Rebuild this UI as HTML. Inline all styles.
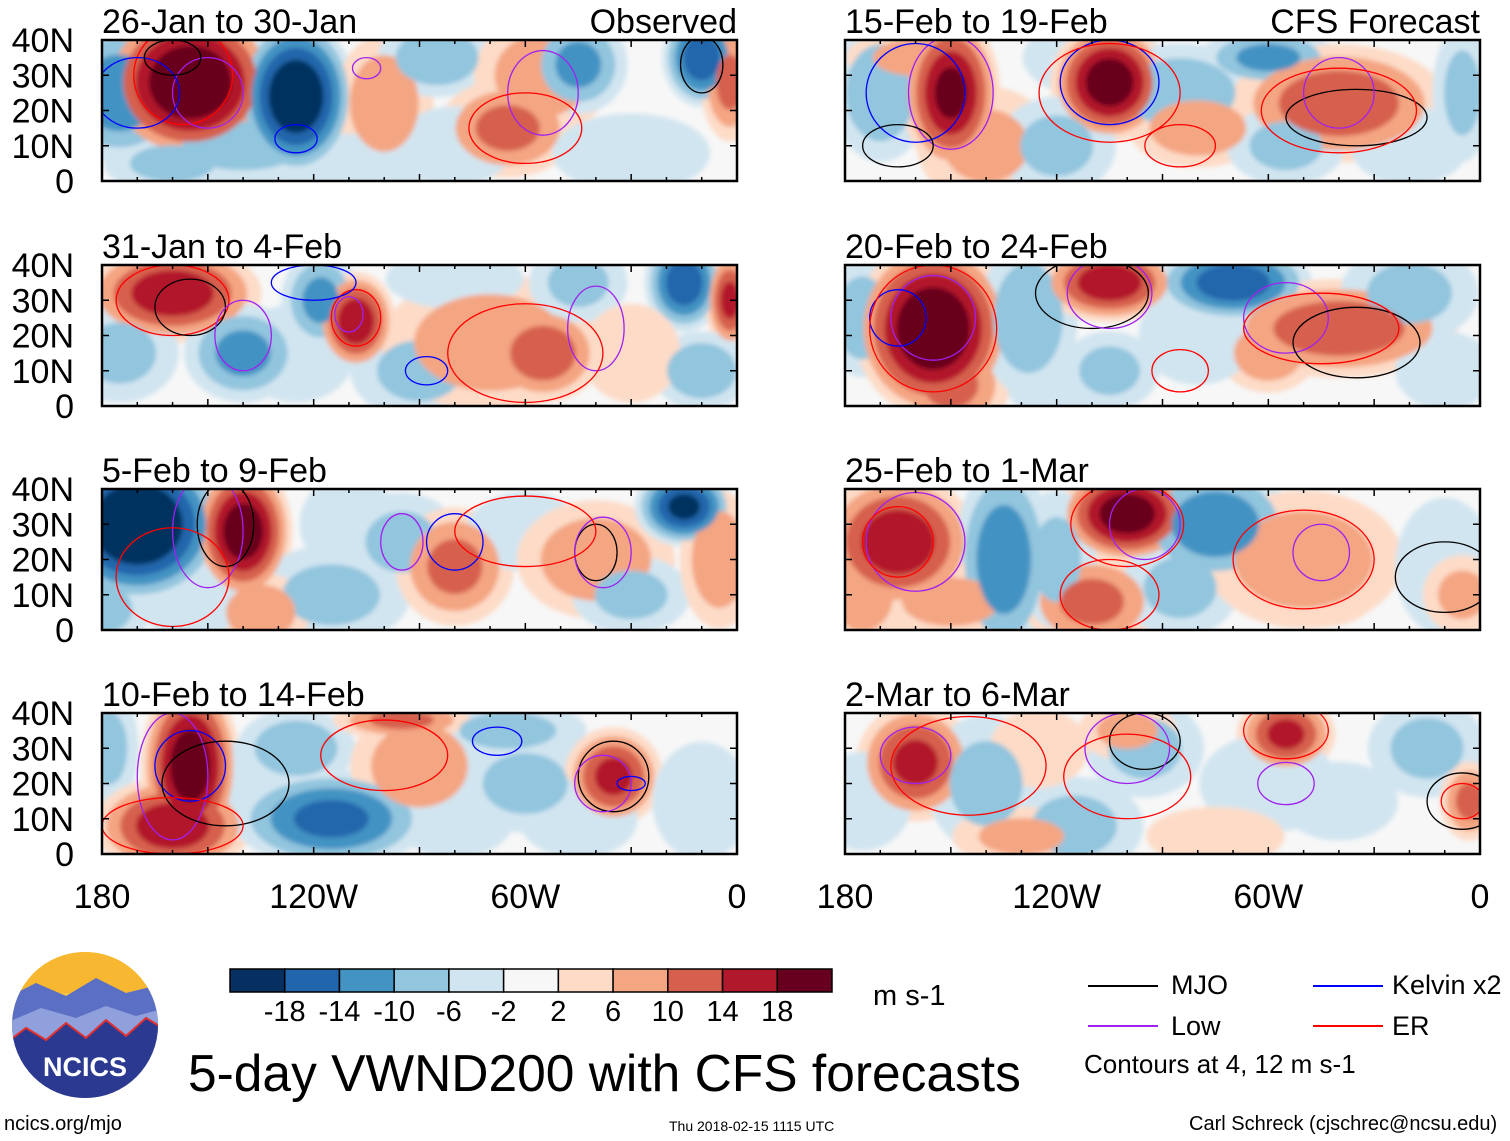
<!DOCTYPE html>
<html><head><meta charset="utf-8">
<style>
html,body{margin:0;padding:0;background:#fff;}
body{width:1510px;height:1141px;position:relative;overflow:hidden;font-family:"Liberation Sans",sans-serif;color:#000;}
.t{position:absolute;white-space:nowrap;}
</style></head>
<body>
<svg id="main" width="1510" height="1141" style="position:absolute;left:0;top:0">
<defs><filter id="bl" x="-20%" y="-20%" width="140%" height="140%"><feGaussianBlur stdDeviation="2.5"/></filter></defs>
</svg>
<script>
// ===== Data =====
const panelTitles = ["26-Jan to 30-Jan","31-Jan to 4-Feb","5-Feb to 9-Feb","10-Feb to 14-Feb","15-Feb to 19-Feb","20-Feb to 24-Feb","25-Feb to 1-Mar","2-Mar to 6-Mar"];
const latTicks = [40,30,20,10,0];
const latLabels = ["40N","30N","20N","10N","0"];
const lonTicks = [-180,-120,-60,0];
const lonLabels = ["180","120W","60W","0"];
const levelValues = [-18,-14,-10,-6,-2,2,6,10,14,18];
const levelColors = ["#053061","#2166ac","#4393c3","#92c5de","#d1e5f0","#f7f7f7","#fddbc7","#f4a582","#d6604d","#b2182b","#67001f"];
// blobs: [lon, lat, lonRadius, latRadius, value]
const blobs0 = [[-175,25,14,14,-12],[-155,28,18,16,22],[-125,24,12,16,-22],[-140,10,20,8,-6],[-100,22,10,14,8],[-85,35,12,8,-8],[-65,15,14,10,10],[-55,30,14,12,8],[-45,33,10,10,-10],[-10,35,8,10,-16],[-2,28,6,12,10],[-30,8,16,8,-4],[-110,5,18,6,-4],[-160,5,14,6,-6],[-80,10,12,8,-4]];
const blobs1 = [[-160,32,18,10,16],[-175,15,12,10,-6],[-140,15,12,10,-10],[-118,30,8,10,-10],[-108,24,8,10,16],[-90,10,14,10,-6],[-70,18,22,14,8],[-55,15,12,10,12],[-80,36,14,6,-4],[-45,35,10,8,-6],[-15,35,8,10,-16],[-2,30,5,10,14],[-10,10,10,8,-8],[-125,15,12,10,-4],[-30,15,10,10,4]];
const blobs2 = [[-170,30,18,16,-24],[-140,28,10,14,20],[-180,6,10,8,-6],[-115,10,16,10,-6],[-95,25,12,10,-6],[-80,18,12,12,10],[-60,28,12,8,-4],[-40,20,16,12,8],[-30,10,12,8,-6],[-15,35,10,8,-18],[-5,20,8,14,8],[-135,5,10,8,8],[-110,30,10,10,-4],[-155,8,10,8,-4]];
const blobs3 = [[-178,30,6,12,-6],[-155,25,10,18,20],[-160,8,16,10,16],[-125,30,12,8,-8],[-115,10,20,10,-14],[-90,25,14,12,8],[-65,35,16,6,-6],[-60,20,14,10,-6],[-35,22,10,10,14],[-45,10,12,8,-4],[-10,15,10,12,-4],[-95,38,14,4,10],[-135,20,10,10,-4],[-80,10,12,8,-4]];
const blobs4 = [[-170,25,10,14,-8],[-150,25,10,16,18],[-140,10,14,12,6],[-110,35,14,8,-4],[-105,28,12,12,20],[-120,10,12,10,-6],[-85,25,16,10,-8],[-80,15,14,8,8],[-60,35,14,6,-10],[-40,22,22,12,12],[-55,10,12,8,-6],[-5,25,6,14,-6],[-160,35,14,6,6],[-20,10,12,8,-4]];
const blobs5 = [[-175,25,8,12,-8],[-155,22,16,18,22],[-150,6,12,10,10],[-128,25,10,16,-8],[-105,35,14,8,16],[-70,35,16,8,-16],[-105,10,10,8,-6],[-60,15,10,8,8],[-40,22,24,10,12],[-20,32,14,10,-6],[-10,10,10,8,-4],[-80,20,12,10,-4],[-120,5,10,6,-4]];
const blobs6 = [[-165,25,16,14,16],[-175,10,10,12,6],[-135,20,10,20,-12],[-110,8,14,10,10],[-100,33,14,10,20],[-75,30,16,12,-12],[-85,12,12,10,-6],[-50,20,20,14,8],[-45,12,12,8,4],[-10,18,10,14,-4],[-5,10,8,8,6],[-150,8,16,8,6],[-120,20,8,14,-6]];
const blobs7 = [[-160,26,12,12,14],[-175,15,10,10,-4],[-140,20,12,14,-6],[-115,8,14,10,-6],[-95,30,12,10,-6],[-100,35,10,6,6],[-55,34,10,8,14],[-60,20,14,10,-4],[-40,15,12,8,-4],[-15,30,12,10,-6],[-3,15,6,8,10],[-130,5,14,6,6],[-75,5,14,6,4],[-125,30,10,8,4]];
const blobsAll = [blobs0,blobs1,blobs2,blobs3,blobs4,blobs5,blobs6,blobs7];
// contours: [lon, lat, lonRadius, latRadius, type]
const contours0 = [[-157,30,14,14,"er"],[-150,25,10,10,"low"],[-170,25,12,10,"kelvin"],[-160,35,8,5,"mjo"],[-55,25,10,12,"low"],[-105,32,4,3,"low"],[-125,12,6,4,"kelvin"],[-60,15,16,10,"er"],[-10,33,6,8,"mjo"]];
const contours1 = [[-160,30,16,10,"er"],[-155,28,10,8,"mjo"],[-140,20,8,10,"low"],[-108,25,7,8,"er"],[-110,26,4,5,"low"],[-88,10,6,4,"kelvin"],[-40,22,8,12,"low"],[-60,15,22,14,"er"],[-120,35,12,5,"kelvin"]];
const contours2 = [[-150,28,10,16,"low"],[-145,30,8,12,"mjo"],[-160,15,16,14,"er"],[-95,25,6,8,"low"],[-80,25,8,8,"kelvin"],[-40,22,6,8,"mjo"],[-38,22,8,10,"low"],[-60,28,20,10,"er"]];
const contours3 = [[-160,22,10,18,"low"],[-155,25,10,10,"kelvin"],[-145,20,18,12,"mjo"],[-160,8,20,8,"er"],[-68,32,7,4,"kelvin"],[-35,22,10,10,"mjo"],[-38,20,8,8,"low"],[-100,28,18,10,"er"],[-30,20,4,2,"kelvin"]];
const contours4 = [[-150,25,12,16,"low"],[-160,25,14,14,"kelvin"],[-105,28,14,12,"kelvin"],[-105,25,20,14,"er"],[-165,10,10,6,"mjo"],[-35,18,20,8,"mjo"],[-40,25,10,10,"low"],[-40,20,22,12,"er"],[-85,10,10,6,"er"]];
const contours5 = [[-155,25,12,12,"low"],[-165,25,8,8,"kelvin"],[-155,22,18,18,"er"],[-110,32,16,10,"mjo"],[-105,32,12,10,"low"],[-55,25,12,10,"low"],[-35,18,18,10,"mjo"],[-45,22,22,10,"er"],[-85,10,8,6,"er"]];
const contours6 = [[-160,25,14,14,"low"],[-165,25,10,10,"er"],[-100,30,16,12,"er"],[-95,30,10,10,"low"],[-50,20,20,14,"er"],[-45,22,8,8,"low"],[-10,15,14,10,"mjo"],[-105,10,14,10,"er"]];
const contours7 = [[-160,28,10,8,"low"],[-145,25,22,14,"er"],[-95,32,10,8,"mjo"],[-100,30,12,10,"low"],[-55,35,12,8,"er"],[-55,20,8,6,"low"],[-5,15,10,8,"mjo"],[-5,15,6,5,"er"],[-100,22,18,12,"er"]];
const contoursAll = [contours0,contours1,contours2,contours3,contours4,contours5,contours6,contours7];
const contourColors = {mjo:"#000000",low:"#a020f0",kelvin:"#0000ff",er:"#ff0000"};

// ===== Layout =====
const colX = [102,845], panelW = 635, rowY = [40,265,489,713], panelH = 141;
const NS = "http://www.w3.org/2000/svg";
const svg = document.getElementById('main');
function mk(tag, attrs, parent){const e=document.createElementNS(NS,tag);for(const k in attrs)e.setAttribute(k,attrs[k]);(parent||svg).appendChild(e);return e;}
function colorFor(v){let i=0;while(i<levelValues.length && v>levelValues[i])i++;return levelColors[i];}
const FS = 'Liberation Sans, sans-serif';

for(let p=0;p<8;p++){
  const col = p<4?0:1, row = p%4;
  const x0 = colX[col], y0 = rowY[row];
  const xs = lon => x0 + (lon+180)/180*panelW;
  const ys = lat => y0 + panelH - lat/40*panelH;
  const g = mk('g',{});
  
  
  const cp = mk('clipPath',{id:'cp'+p},g);
  mk('rect',{x:x0,y:y0,width:panelW,height:panelH},cp);
  const inner = mk('g',{'clip-path':'url(#cp'+p+')'},g);
  mk('rect',{x:x0,y:y0,width:panelW,height:panelH,fill:'#f7f7f7'},inner);
  const fg = mk('g',{filter:'url(#bl)'},inner);
  const blobs = blobsAll[p];
  for(let L=2; L<=26; L+=4){
    blobs.forEach(b=>{
      const av=Math.abs(b[4]); if(av<L) return;
      const f=1.4*Math.pow(1-(L-2)/(av+2),0.7);
      const e=mk('ellipse',{cx:xs(b[0]),cy:ys(b[1]),rx:Math.abs(xs(b[2])-xs(0))*f,ry:(b[3]/40*panelH)*f,fill:colorFor(Math.sign(b[4])*(L+0.5))},fg);
      
      
    });
  }
  contoursAll[p].forEach(c=>{
    const e=mk('ellipse',{cx:xs(c[0]),cy:ys(c[1]),rx:Math.abs(xs(c[2])-xs(0)),ry:c[3]/40*panelH,fill:'none',stroke:contourColors[c[4]],'stroke-width':1.3},inner);
    
    
  });
  const fr = mk('rect',{x:x0,y:y0,width:panelW,height:panelH,fill:'none',stroke:'#000','stroke-width':2.5},g);
  
  
  for(let lon=-180;lon<=0;lon+=10){
    const len = lon%30===0?7:4;
    mk('line',{x1:xs(lon),x2:xs(lon),y1:y0,y2:y0+len,stroke:'#000','stroke-width':1.5},g);
    mk('line',{x1:xs(lon),x2:xs(lon),y1:y0+panelH,y2:y0+panelH-len,stroke:'#000','stroke-width':1.5},g);
  }
  latTicks.forEach((lat,i)=>{
    mk('line',{x1:x0,x2:x0+7,y1:ys(lat),y2:ys(lat),stroke:'#000','stroke-width':1.5},g);
    mk('line',{x1:x0+panelW,x2:x0+panelW-7,y1:ys(lat),y2:ys(lat),stroke:'#000','stroke-width':1.5},g);
    if(col===0){
      const t=mk('text',{x:74,y:ys(lat)+12,'text-anchor':'end','font-size':34,'font-family':FS},g);
      t.textContent=latLabels[i];
      
      
    }
  });
  const tt=mk('text',{x:x0,y:y0-7,'font-size':34,'font-family':FS},g);
  tt.textContent=panelTitles[p];
  
  
  if(row===0){
    const lt=mk('text',{x:x0+panelW,y:y0-7,'font-size':34,'text-anchor':'end','font-family':FS},g);
    lt.textContent = col===0?"Observed":"CFS Forecast";
    
    
  }
  if(row===3){
    lonTicks.forEach((lon,i)=>{
      const t=mk('text',{x:xs(lon),y:908,'text-anchor':'middle','font-size':34,'font-family':FS},g);
      t.textContent=lonLabels[i];
      
      
    });
  }
}

// ===== Colorbar =====
const cb = mk('g',{});


const cbX=230, cbW=602, cbY=969, cbH=23, bw=cbW/levelColors.length;
levelColors.forEach((c,i)=>{mk('rect',{x:cbX+i*bw,y:cbY,width:bw,height:cbH,fill:c,stroke:'#000','stroke-width':1.5},cb);});
levelValues.forEach((v,i)=>{
  const t=mk('text',{x:cbX+(i+1)*bw,y:1021,'text-anchor':'middle','font-size':29,'font-family':FS},cb);
  t.textContent=v;
  
  
});
</script>

<div class="t" style="left:873px;top:980px;font-size:29px">m s-1</div>

<svg width="160" height="160" style="position:absolute;left:6px;top:948px">
  <defs><clipPath id="lc"><circle cx="79" cy="77" r="73"/></clipPath></defs>
  <g clip-path="url(#lc)">
    <rect x="0" y="0" width="160" height="160" fill="#f4c542"/>
    <rect x="0" y="0" width="160" height="45" fill="#f7b731"/>
    <path d="M0 50 L30 35 L60 48 L90 30 L120 45 L160 35 L160 160 L0 160Z" fill="#5b6fc4"/>
    <path d="M0 75 L35 60 L70 70 L100 58 L130 68 L160 60 L160 160 L0 160Z" fill="#8fa0dc"/>
    <path d="M0 95 L20 80 L40 92 L60 75 L80 90 L100 72 L120 88 L140 70 L160 82 L160 160 L0 160Z" fill="#2b3990" stroke="#e03030" stroke-width="2"/>
  </g>
  <text x="79" y="128" text-anchor="middle" font-size="27" font-weight="bold" fill="#fff" font-family="Liberation Sans, sans-serif">NCICS</text>
</svg>

<div class="t" style="left:188px;top:1043px;font-size:51.5px">5-day VWND200 with CFS forecasts</div>

<svg width="430" height="70" style="position:absolute;left:1080px;top:968px">
  <line x1="8" y1="18" x2="78" y2="18" stroke="#000" stroke-width="2"/>
  <line x1="8" y1="58" x2="78" y2="58" stroke="#a020f0" stroke-width="2"/>
  <line x1="233" y1="18" x2="303" y2="18" stroke="#0000ff" stroke-width="2"/>
  <line x1="233" y1="58" x2="303" y2="58" stroke="#ff0000" stroke-width="2"/>
</svg>
<div class="t" style="left:1171px;top:970px;font-size:27px">MJO</div>
<div class="t" style="left:1171px;top:1011px;font-size:27px">Low</div>
<div class="t" style="left:1392px;top:970px;font-size:27px">Kelvin x2</div>
<div class="t" style="left:1392px;top:1011px;font-size:27px">ER</div>
<div class="t" style="left:1084px;top:1049px;font-size:26px">Contours at 4, 12 m s-1</div>

<div class="t" style="left:4px;top:1113px;font-size:20px">ncics.org/mjo</div>
<div class="t" style="left:669px;top:1118px;font-size:14px">Thu 2018-02-15 1115 UTC</div>
<div class="t" style="left:1189px;top:1113px;font-size:20px">Carl Schreck (cjschrec@ncsu.edu)</div>
</body></html>
